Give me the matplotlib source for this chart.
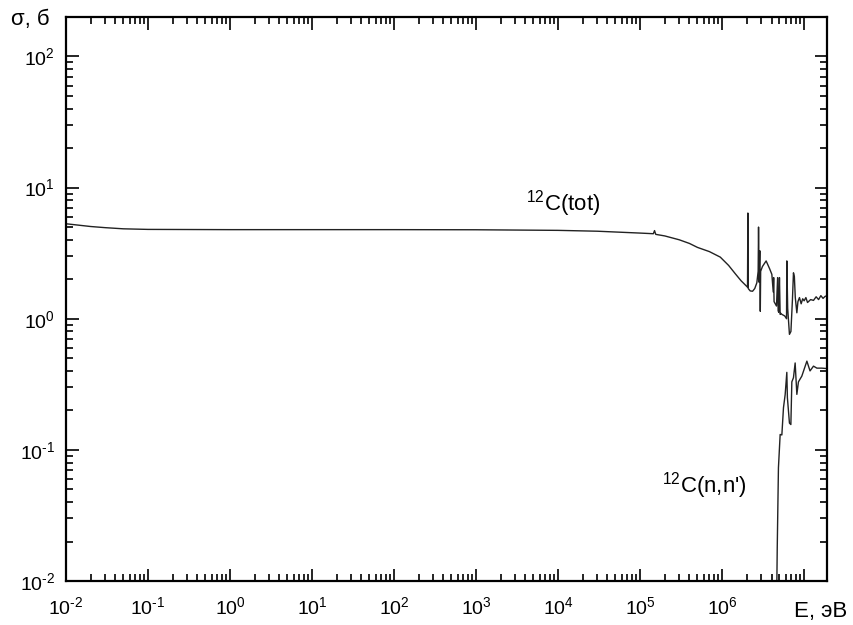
import matplotlib
matplotlib.use("Agg")
import numpy as np
import matplotlib.pyplot as plt
from matplotlib.ticker import LogLocator, FuncFormatter, NullFormatter

plt.rcParams["font.family"] = ["Liberation Sans", "DejaVu Sans"]
plt.rcParams["mathtext.fontset"] = "custom"
plt.rcParams["mathtext.rm"] = "Liberation Sans"
plt.rcParams["mathtext.it"] = "Liberation Sans:italic"
plt.rcParams["mathtext.bf"] = "Liberation Sans:bold"

# ── Cross sections of 12C, energy in eV, sigma in barns ──────
e_tot = [1e-2, 2e-2, 3e-2, 5e-2, 1e-1, 1e0, 1e1, 1e2, 1e3, 1e4, 3e4,
         1e5, 1.45e5, 1.5e5, 1.55e5, 2e5, 3e5, 4e5, 5e5, 7e5, 9.5e5, 1.2e6,
         1.45e6, 1.7e6, 1.9e6, 2.04e6, 2.06e6, 2.08e6, 2.2e6, 2.35e6, 2.5e6,
         2.65e6, 2.75e6, 2.78e6, 2.82e6, 2.88e6, 2.92e6, 2.95e6, 3.1e6,
         3.44e6, 3.8e6, 4.04e6, 4.2e6, 4.25e6, 4.3e6, 4.6e6, 4.75e6, 4.82e6,
         4.9e6, 5.0e6, 5.1e6, 5.2e6, 5.35e6, 5.8e6, 6.1e6, 6.15e6, 6.3e6,
         6.62e6, 6.9e6, 7.2e6, 7.41e6, 7.6e6, 7.8e6, 8.15e6, 8.4e6, 8.77e6,
         9.2e6, 9.6e6, 1.0e7, 1.05e7, 1.1e7, 1.2e7, 1.3e7, 1.4e7, 1.5e7,
         1.6e7, 1.7e7, 1.8e7, 1.9e7]
s_tot = [5.3, 5.05, 4.95, 4.85, 4.8, 4.78, 4.78, 4.78, 4.77, 4.72, 4.65,
         4.5, 4.45, 4.7, 4.4, 4.28, 4.0, 3.75, 3.5, 3.25, 2.95, 2.55,
         2.2, 1.95, 1.82, 1.74, 6.4, 1.7, 1.63, 1.62, 1.7,
         1.88, 2.3, 5.0, 1.9, 3.3, 1.14, 2.3, 2.5,
         2.76, 2.4, 2.18, 1.6, 2.06, 1.35, 1.25, 2.06, 1.15,
         1.12, 2.06, 1.08, 1.1, 1.08, 1.05, 1.0, 2.76, 1.2,
         0.76, 0.8, 1.4, 2.24, 2.1, 1.45, 1.11, 1.35, 1.45,
         1.3, 1.42, 1.37, 1.45, 1.33, 1.4, 1.38, 1.47, 1.4,
         1.5, 1.43, 1.48, 1.5]

e_inel = [4.65e6, 4.7e6, 4.86e6, 5.1e6, 5.35e6, 5.6e6, 5.87e6, 6.15e6,
          6.25e6, 6.62e6, 6.89e6, 7.08e6, 7.41e6, 7.77e6, 8.15e6, 8.52e6,
          9.37e6, 1.08e7, 1.18e7, 1.3e7, 1.43e7, 1.64e7, 1.9e7]
s_inel = [0.01, 0.018, 0.073, 0.131, 0.13, 0.21, 0.264, 0.39,
          0.25, 0.16, 0.156, 0.33, 0.355, 0.46, 0.265, 0.33,
          0.365, 0.475, 0.40, 0.435, 0.42, 0.42, 0.417]

x_lim = (1e-2, 1.9e7)
y_lim = (1e-2, 200)
x_last_label = 1e6   # decades above this get a tick but no label


def pow10(v, pos, limit=None):
    if limit is not None and v > limit * 1.01:
        return ""
    p = int(round(np.log10(v)))
    sup = str(p).replace("-", "\u2010")
    return "10$^{" + sup + "}$"


fig = plt.figure(figsize=(8.54, 6.25), dpi=100)
ax = fig.add_axes([66 / 854, 1 - 581 / 625, 761 / 854, 564 / 625])

ax.plot(e_tot, s_tot, color="#222222", lw=1.0)
ax.plot(e_inel, s_inel, color="#222222", lw=1.0)

ax.set_xscale("log")
ax.set_yscale("log")
ax.set_xlim(*x_lim)
ax.set_ylim(*y_lim)

for axis in (ax.xaxis, ax.yaxis):
    axis.set_major_locator(LogLocator(base=10, numticks=20))
    axis.set_minor_locator(LogLocator(base=10, subs=range(2, 10), numticks=20))
    axis.set_minor_formatter(NullFormatter())
ax.xaxis.set_major_formatter(FuncFormatter(lambda v, p: pow10(v, p, x_last_label)))
ax.yaxis.set_major_formatter(FuncFormatter(pow10))

ax.tick_params(which="both", direction="in", top=True, right=True,
               width=1.2, labelsize=14, color="black")
ax.tick_params(which="major", length=9)
ax.tick_params(which="minor", length=5)
ax.tick_params(axis="x", pad=11)
ax.tick_params(axis="y", pad=8)
for sp in ax.spines.values():
    sp.set_linewidth(1.6)

ax.text(4.1e3, 6.67, r"$^{12}$C(tot)", fontsize=16, ha="left", va="baseline")
ax.text(1.84e5, 0.047, r"$^{12}$C(n,n')", fontsize=16, ha="left", va="baseline")

fig.text(30 / 854, 1 - 20 / 625, "σ, б", fontsize=16, ha="center", va="center")
fig.text(821 / 854, 1 - 612 / 625, "E, эВ", fontsize=16, ha="center", va="center")

fig.savefig("out.png", dpi=100, facecolor="white")
